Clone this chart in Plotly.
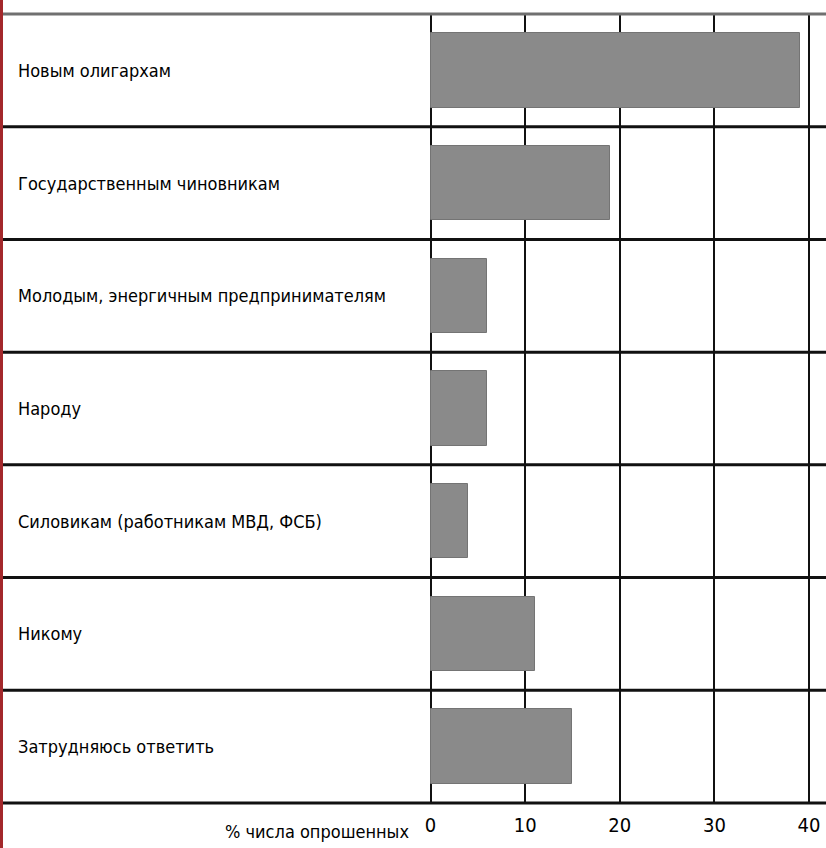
import plotly.graph_objects as go

# Answers (top to bottom) and share of respondents, %
categories = [
    "Новым олигархам",
    "Государственным чиновникам",
    "Молодым, энергичным предпринимателям",
    "Народу",
    "Силовикам (работникам МВД, ФСБ)",
    "Никому",
    "Затрудняюсь ответить",
]
values = [39, 19, 6, 6, 4, 11, 15]
tick_vals = [0, 10, 20, 30, 40]
axis_title = "% числа опрошенных"

FONT = "Liberation Sans Narrow, DejaVu Sans Condensed, Arial Narrow, sans-serif"
W, H = 826, 848
L, R, T, B = 3, 0, 14, 45
plot_w = W - L - R
plot_h = H - T - B

# 0 sits at x=430.5px, 40 at x=809px
px_per_unit = (809 - 430.5) / 40
x_min = -(430.5 - L) / px_per_unit
x_max = (W - R - 430.5) / px_per_unit

n = len(categories)
ypos = list(range(n))

fig = go.Figure()
fig.add_trace(go.Bar(
    x=values, y=ypos, orientation="h", width=0.66,
    marker=dict(color="#8a8a8a", line=dict(color="#747474", width=1)),
    hoverinfo="x", showlegend=False,
))

# category labels inside the plot, left-aligned
for i, name in enumerate(categories):
    fig.add_annotation(
        x=(16 - L) / plot_w, xref="paper", y=i, yref="y",
        text=name, showarrow=False, xanchor="left", yanchor="middle",
        font=dict(family=FONT, size=18, color="#000000"),
    )

# row separators (paper coords so the edge lines are not clipped)
for k in range(n + 1):
    y = 1 - k / n
    fig.add_shape(
        type="line", xref="paper", x0=0, x1=1, yref="paper", y0=y, y1=y,
        line=dict(color="#707070" if k == 0 else "#111111", width=3),
        layer="above",
    )

# red left border
fig.add_shape(
    type="rect", xref="paper", x0=-L / plot_w, x1=0,
    yref="paper", y0=-B / plot_h, y1=1 + T / plot_h,
    fillcolor="#a3282b", line=dict(width=0), layer="above",
)

fig.add_annotation(
    x=(411 - L) / plot_w, xref="paper", y=-(831 - T - plot_h) / plot_h,
    yref="paper", text=axis_title, showarrow=False,
    xanchor="right", yanchor="middle",
    font=dict(family=FONT, size=18, color="#000000"),
)

fig.update_xaxes(
    range=[x_min, x_max], tickvals=tick_vals, showgrid=True,
    gridcolor="#111111", gridwidth=2, zeroline=False, showline=False,
    ticks="", ticklabelstandoff=8,
    tickfont=dict(family=FONT, size=20, color="#000000"),
    fixedrange=True,
)
fig.update_yaxes(
    range=[n - 0.5, -0.5], showticklabels=False,
    showgrid=False, zeroline=False, showline=False, fixedrange=True,
)
fig.update_layout(
    width=W, height=H, margin=dict(l=L, r=R, t=T, b=B),
    plot_bgcolor="white", paper_bgcolor="white", bargap=0,
)

fig.write_html(
    "out.html",
    config={"displayModeBar": False},
    post_script="document.body.style.margin='0px';",
)
